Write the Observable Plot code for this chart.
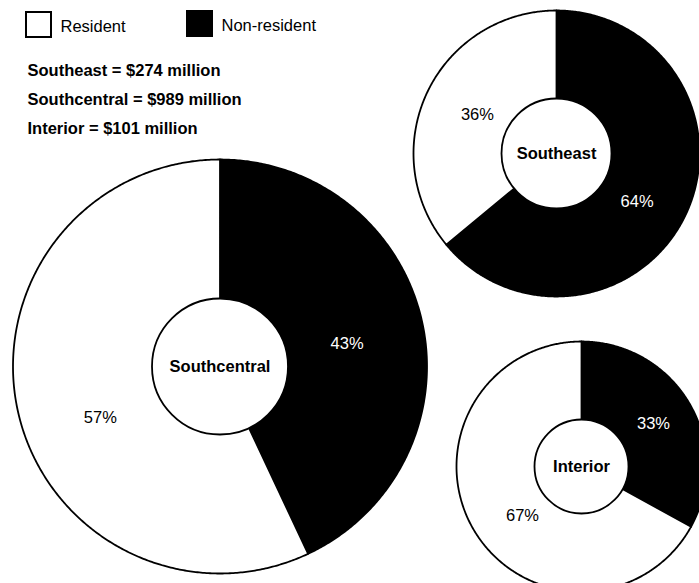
<!DOCTYPE html>
<html>
<head>
<meta charset="utf-8">
<script src="https://cdn.jsdelivr.net/npm/d3@7"></script>
<script src="https://cdn.jsdelivr.net/npm/@observablehq/plot@0.6"></script>
<style>
  html, body { margin: 0; padding: 0; background: #fff; }
  #chart svg { display: block; }
</style>
</head>
<body>
<div id="chart"></div>
<script>
// ---- data ----
const regions = ["Southeast", "Southcentral", "Interior"];
const totalsMillion = [274, 989, 101];
const categories = ["Resident", "Non-resident"];
const residentPct = [36, 57, 67];
const nonResidentPct = [64, 43, 33];

// ---- layout (positions / sizes only) ----
const W = 699, H = 583;
const layout = {
  Southeast:    {cx: 556, cy: 153, rOut: 143, rIn: 55,  lab: {"Non-resident": [121, 94], "Resident": [296, 88]}},
  Southcentral: {cx: 219.5, cy: 366, rOut: 207, rIn: 68, lab: {"Non-resident": [80, 129], "Resident": [247, 130]}},
  Interior:     {cx: 581, cy: 466, rOut: 125, rIn: 47,  lab: {"Non-resident": [59, 84], "Resident": [230, 77]}}
};
const legendLayout = {
  "Resident":     {x: 26, y: 12, size: 25, tx: 60},
  "Non-resident": {x: 187, y: 11, size: 25, tx: 221}
};
const totalsLayout = {x: 27, y0: 70.5, dy: 29};

const FONT = "'Liberation Sans', Arial, Helvetica, sans-serif";

// ---- build slice polygons from the percentages ----
const rad = d => d * Math.PI / 180;
const pt = (L, a, r) => ({x: L.cx + r * Math.sin(rad(a)), y: L.cy - r * Math.cos(rad(a))});

const slices = [];
const labels = [];
regions.forEach((reg, i) => {
  const L = layout[reg];
  const parts = [
    {cat: "Non-resident", v: nonResidentPct[i]},
    {cat: "Resident", v: residentPct[i]}
  ];
  const tot = d3.sum(parts, p => p.v);
  let a0 = 0;
  parts.forEach(p => {
    const a1 = a0 + 360 * p.v / tot;
    const key = reg + "|" + p.cat;
    slices.push({key, cat: p.cat, ...pt(L, 0, 0)});
    const n = Math.max(2, Math.ceil((a1 - a0) / 0.5));
    for (let k = 0; k <= n; k++) {
      const a = a0 + (a1 - a0) * k / n;
      slices.push({key, cat: p.cat, ...pt(L, a, L.rOut)});
    }
    const [la, lr] = L.lab[p.cat];
    labels.push({text: p.v + "%", cat: p.cat, ...pt(L, la, lr)});
    a0 = a1;
  });
});

const holes = regions.map(reg => ({name: reg, x: layout[reg].cx, y: layout[reg].cy, r: layout[reg].rIn}));

const legendRows = categories.map(c => ({cat: c, ...legendLayout[c]}));
const totalsRows = regions.map((reg, i) => ({
  text: `${reg} = $${totalsMillion[i]} million`,
  y: totalsLayout.y0 + i * totalsLayout.dy
}));

const chart = Plot.plot({
  width: W,
  height: H,
  margin: 0,
  style: {fontFamily: FONT, background: "#fff", color: "#000"},
  x: {domain: [0, W], range: [0, W], axis: null},
  y: {domain: [0, H], range: [0, H], axis: null},
  color: {domain: categories, range: ["#ffffff", "#000000"]},
  marks: [
    Plot.line(slices, {x: "x", y: "y", z: "key", fill: "cat", stroke: "#000", strokeWidth: 1.8, curve: "linear-closed", strokeLinejoin: "round"}),
    ...holes.map(h => Plot.dot([h], {x: "x", y: "y", r: h.r, fill: "#fff", stroke: "#000", strokeWidth: 1.8})),
    Plot.text(holes, {x: "x", y: "y", text: "name", fontSize: 16.5, fontWeight: "bold", fill: "#000"}),
    Plot.text(labels, {x: "x", y: "y", text: "text", fontSize: 16.5, fill: d => d.cat === "Non-resident" ? "#fff" : "#000", style: "letter-spacing:0.8px"}),
    Plot.rect(legendRows, {x1: "x", x2: d => d.x + d.size, y1: "y", y2: d => d.y + d.size, fill: "cat", stroke: "#000", strokeWidth: 2}),
    Plot.text(legendRows, {x: "tx", y: d => d.y + d.size / 2 + 1.5, text: "cat", textAnchor: "start", fontSize: 16.5, fill: "#000"}),
    Plot.text(totalsRows, {x: totalsLayout.x, y: "y", text: "text", textAnchor: "start", fontSize: 16.5, fontWeight: "bold", fill: "#000"})
  ]
});
document.getElementById("chart").appendChild(chart);
</script>
</body>
</html>
